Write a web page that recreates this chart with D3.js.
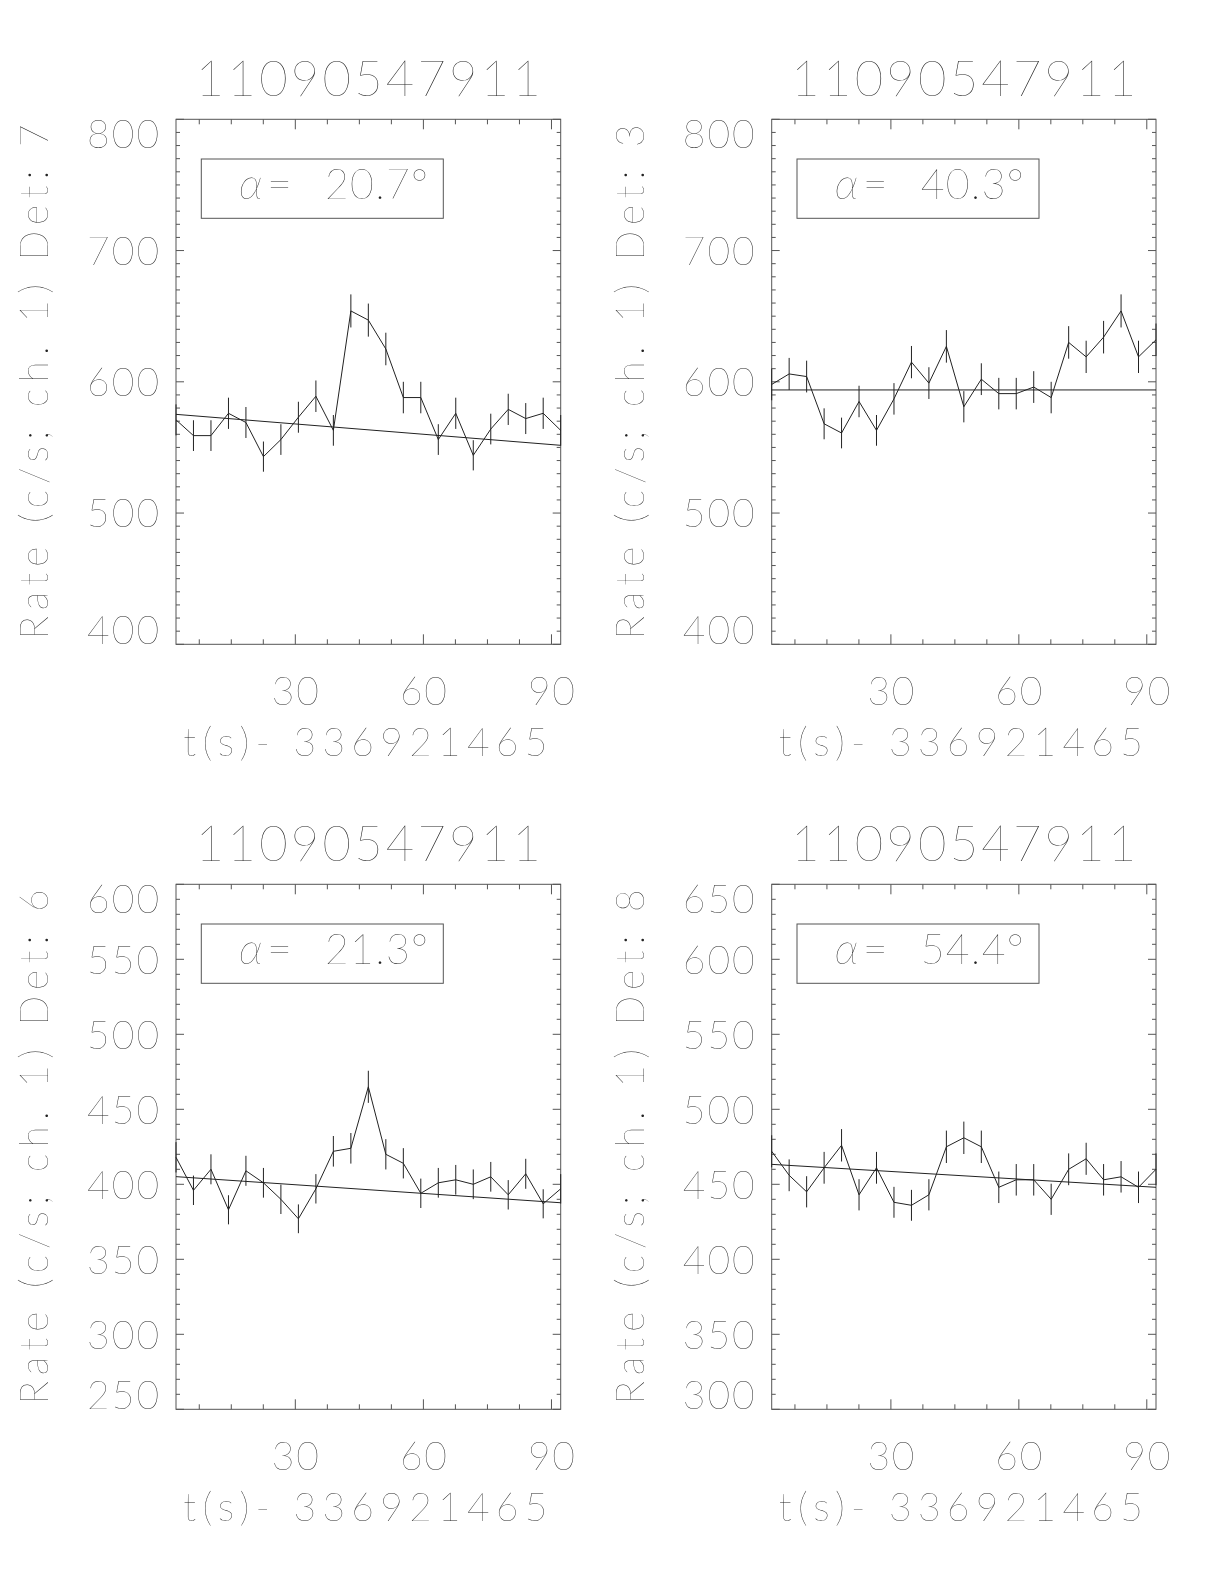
<!DOCTYPE html>
<html>
<head>
<meta charset="utf-8">
<script src="https://cdn.jsdelivr.net/npm/d3@7/dist/d3.min.js"></script>
<style>
  html, body { margin: 0; padding: 0; background: #fff; }
  #chart { filter: grayscale(100%); }
  svg text { font-family: "Lato", "Roboto", "DejaVu Sans", sans-serif; font-weight: 200; fill: #222; }
</style>
</head>
<body>
<svg id="chart" width="1224" height="1584"></svg>
<script>
// ---------------- data ----------------
const times = [2.05, 6.14, 10.24, 14.34, 18.43, 22.53, 26.62, 30.72, 34.82, 38.91, 43.01, 47.10,
               51.20, 55.30, 59.39, 63.49, 67.58, 71.68, 75.78, 79.87, 83.97, 88.06, 92.16];

const detectors = [7, 3, 6, 8];
const alphaValues = ["20.7", "40.3", "21.3", "54.4"];
const titleText = "11090547911";
const xTitleText = "t(s)- 336921465";
const xTickLabels = [30, 60, 90];

const ratesDet7 = [571, 559, 559, 576, 569, 543, 556, 573, 589, 563, 654, 647,
                   625, 588, 588, 556, 576, 544, 564, 579, 572, 576, 563];
const errDet7   = [11.8, 11.7, 11.7, 11.9, 11.8, 11.5, 11.7, 11.8, 12.0, 11.7, 12.6, 12.6,
                   12.4, 12.0, 12.0, 11.7, 11.9, 11.5, 11.7, 11.9, 11.8, 11.9, 11.7];
const fitDet7   = [575.2, 551.6];

const ratesDet3 = [598, 606, 604, 568, 561, 585, 563, 587, 615, 599, 627, 581,
                   602, 591, 591, 596, 588, 630, 619, 634, 654, 619, 632];
const errDet3   = [12.1, 12.2, 12.1, 11.8, 11.7, 12.0, 11.7, 12.0, 12.3, 12.1, 12.4, 11.9,
                   12.1, 12.0, 12.0, 12.1, 12.0, 12.4, 12.3, 12.4, 12.6, 12.3, 12.4];
const fitDet3   = [593.8, 593.8];

const ratesDet6 = [418, 396, 410, 383, 409, 401, 390, 377, 397, 422, 424, 465,
                   420, 414, 394, 401, 403, 400, 405, 393, 407, 387, 397];
const errDet6   = [10.1, 9.8, 10.0, 9.7, 10.0, 9.9, 9.8, 9.6, 9.8, 10.2, 10.2, 10.7,
                   10.1, 10.1, 9.8, 9.9, 9.9, 9.9, 9.9, 9.8, 10.0, 9.7, 9.8];
const fitDet6   = [405.1, 387.7];

const ratesDet8 = [472, 456, 445, 461, 476, 443, 461, 438, 436, 443, 475, 481,
                   475, 448, 453, 453, 440, 460, 467, 453, 455, 448, 460];
const errDet8   = [10.7, 10.6, 10.4, 10.6, 10.8, 10.4, 10.6, 10.3, 10.3, 10.4, 10.8, 10.8,
                   10.8, 10.5, 10.5, 10.5, 10.4, 10.6, 10.7, 10.5, 10.5, 10.5, 10.6];
const fitDet8   = [463.3, 448.0];

const yDomains = [[400, 800], [400, 800], [250, 600], [300, 650]];
const yTickLabels = [
  [400, 500, 600, 700, 800],
  [400, 500, 600, 700, 800],
  [250, 300, 350, 400, 450, 500, 550, 600],
  [300, 350, 400, 450, 500, 550, 600, 650]
];

const panelsData = [
  { rates: ratesDet7, errs: errDet7, fit: fitDet7 },
  { rates: ratesDet3, errs: errDet3, fit: fitDet3 },
  { rates: ratesDet6, errs: errDet6, fit: fitDet6 },
  { rates: ratesDet8, errs: errDet8, fit: fitDet8 }
];

// ---------------- layout ----------------
const lefts = [176, 771.7], rights = [560.7, 1156];
const tops = [119.3, 884.3], bottoms = [644.3, 1409.3];
const axisColor = "#555", lineColor = "#222";
const tickFont = 39;

const svg = d3.select("#chart");

panelsData.forEach((pd, p) => {
  const col = p % 2, row = Math.floor(p / 2);
  const L = lefts[col], R = rights[col], T = tops[row], B = bottoms[row];
  const x = d3.scaleLinear().domain([times[0], times[times.length - 1]]).range([L, R]);
  const y = d3.scaleLinear().domain(yDomains[p]).range([B, T]);
  const g = svg.append("g");

  // frame
  g.append("rect").attr("x", L).attr("y", T).attr("width", R - L).attr("height", B - T)
    .attr("fill", "none").attr("stroke", axisColor).attr("stroke-width", 1);

  // y ticks
  const majY = yTickLabels[p];
  const minY = d3.range(yDomains[p][0], yDomains[p][1] + 0.001, 10).filter(v => !majY.includes(v));
  const yt = [...majY.map(v => [v, 8]), ...minY.map(v => [v, 4])];
  yt.forEach(([v, len]) => {
    const yy = y(v);
    g.append("line").attr("x1", L).attr("x2", L + len).attr("y1", yy).attr("y2", yy)
      .attr("stroke", axisColor);
    g.append("line").attr("x1", R).attr("x2", R - len).attr("y1", yy).attr("y2", yy)
      .attr("stroke", axisColor);
  });

  // x ticks
  const [x0, x1] = x.domain();
  const majX = [0, 30, 60, 90].filter(v => v >= x0 && v <= x1);
  const minX = d3.range(0, 92.5, 7.5).filter(v => v % 30 !== 0 && v >= x0 && v <= x1);
  [...majX.map(v => [v, 10]), ...minX.map(v => [v, 5])].forEach(([v, len]) => {
    const xx = x(v);
    g.append("line").attr("x1", xx).attr("x2", xx).attr("y1", B).attr("y2", B - len)
      .attr("stroke", axisColor);
    g.append("line").attr("x1", xx).attr("x2", xx).attr("y1", T).attr("y2", T + len)
      .attr("stroke", axisColor);
  });

  // y tick labels
  const capH = 28.5;
  majY.forEach(v => {
    let base = y(v) + capH / 2;
    base = Math.max(base, T + capH);
    base = Math.min(base, B);
    g.append("text").attr("x", L - 17).attr("y", base).attr("text-anchor", "end")
      .attr("font-size", tickFont).attr("textLength", 72).attr("lengthAdjust", "spacing")
      .text(v);
  });

  // x tick labels
  xTickLabels.forEach(v => {
    g.append("text").attr("x", x(v)).attr("y", B + 61).attr("text-anchor", "middle")
      .attr("font-size", tickFont).attr("textLength", 47).attr("lengthAdjust", "spacing")
      .text(v);
  });

  // x title
  g.append("text").attr("x", (L + R) / 2 - 3).attr("y", B + 112).attr("text-anchor", "middle")
    .attr("font-size", tickFont).attr("textLength", 364).attr("lengthAdjust", "spacing")
    .text(xTitleText);

  // y title
  const yc = (T + B) / 2;
  g.append("text").attr("transform", `translate(${L - 128},${yc}) rotate(-90)`)
    .attr("text-anchor", "middle").attr("font-size", tickFont)
    .attr("textLength", 515).attr("lengthAdjust", "spacing")
    .text(`Rate (c/s; ch. 1) Det: ${detectors[p]}`);

  // title
  g.append("text").attr("x", (L + R) / 2).attr("y", T - 23.5).attr("text-anchor", "middle")
    .attr("font-size", 49).attr("textLength", 345).attr("lengthAdjust", "spacing")
    .text(titleText);

  // alpha box
  g.append("rect").attr("x", L + 25.3).attr("y", T + 39.7).attr("width", 242).attr("height", 59.3)
    .attr("fill", "none").attr("stroke", axisColor);
  g.append("text").attr("x", L + 63).attr("y", T + 80).attr("font-size", 44)
    .attr("font-style", "italic").text("α");
  g.append("text").attr("x", L + 91).attr("y", T + 80).attr("font-size", 41)
    .attr("textLength", 25).attr("lengthAdjust", "spacingAndGlyphs").text("=");
  g.append("text").attr("x", L + 149).attr("y", T + 80).attr("font-size", 41)
    .attr("textLength", 103).attr("lengthAdjust", "spacing")
    .text(alphaValues[p] + "°");

  // fit line
  g.append("line").attr("x1", x(x0)).attr("x2", x(x1))
    .attr("y1", y(pd.fit[0])).attr("y2", y(pd.fit[1]))
    .attr("stroke", lineColor).attr("stroke-width", 1);

  // error bars
  g.selectAll("line.err").data(times).enter().append("line").attr("class", "err")
    .attr("x1", (t) => x(t)).attr("x2", (t) => x(t))
    .attr("y1", (t, i) => y(pd.rates[i] - pd.errs[i]))
    .attr("y2", (t, i) => y(pd.rates[i] + pd.errs[i]))
    .attr("stroke", lineColor).attr("stroke-width", 1);

  // data line
  const line = d3.line().x((d, i) => x(times[i])).y(d => y(d));
  g.append("path").datum(pd.rates).attr("d", line)
    .attr("fill", "none").attr("stroke", lineColor).attr("stroke-width", 1);
});
</script>
</body>
</html>
